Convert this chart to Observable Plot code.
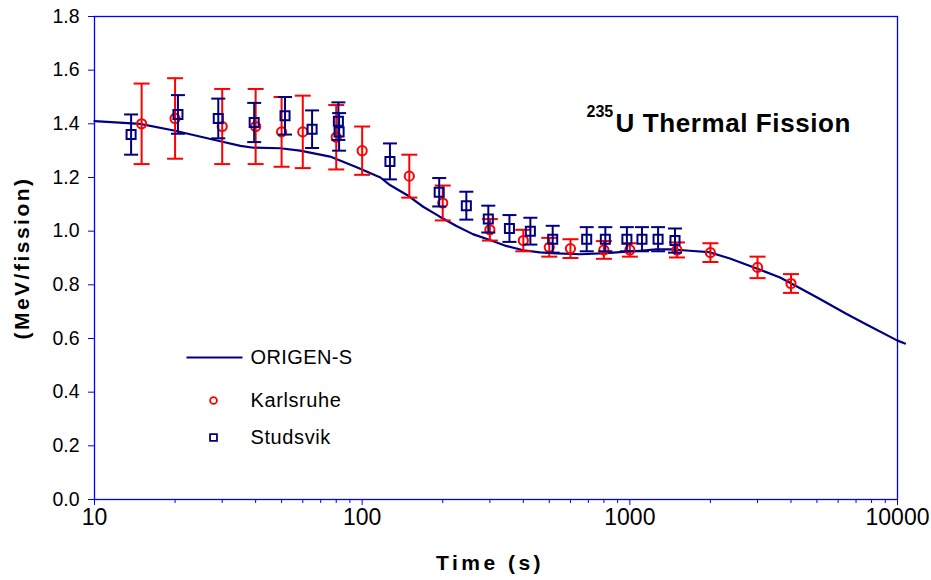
<!DOCTYPE html>
<html>
<head>
<meta charset="utf-8">
<script src="https://cdn.jsdelivr.net/npm/d3@7"></script>
<script src="https://cdn.jsdelivr.net/npm/@observablehq/plot@0.6"></script>
<style>
  html, body { margin: 0; padding: 0; background: #ffffff; }
  svg { display: block; }
</style>
</head>
<body>
<div id="chart"></div>
<script>
// ---- Data ----
const origenTime  = [10, 14.8, 19.8, 29.5, 35.1, 39.3, 49.4, 58.6, 75.9, 95.4, 117, 127, 147, 169, 195, 225, 259, 300, 345, 400, 461, 532, 654, 818, 944, 1090, 1254, 1448, 1671, 1972, 2365, 2980, 3642, 4193, 5090, 6407, 7627, 9960, 10660];
const origenValue = [1.41, 1.40, 1.375, 1.335, 1.318, 1.311, 1.309, 1.30, 1.278, 1.238, 1.20, 1.172, 1.135, 1.091, 1.054, 1.019, 0.989, 0.967, 0.945, 0.929, 0.921, 0.917, 0.914, 0.918, 0.923, 0.927, 0.932, 0.932, 0.927, 0.922, 0.898, 0.861, 0.827, 0.795, 0.749, 0.693, 0.653, 0.593, 0.581];

const karlsruheTime  = [15, 20, 30, 40, 50, 60, 80, 100, 150, 200, 300, 400, 500, 600, 800, 1000, 1500, 2000, 3000, 4000];
const karlsruheValue = [1.40, 1.42, 1.39, 1.39, 1.37, 1.37, 1.35, 1.30, 1.205, 1.105, 1.005, 0.965, 0.94, 0.935, 0.93, 0.93, 0.93, 0.92, 0.865, 0.805];
const karlsruheError = [0.15, 0.15, 0.14, 0.14, 0.13, 0.135, 0.12, 0.09, 0.08, 0.065, 0.04, 0.04, 0.035, 0.035, 0.033, 0.025, 0.028, 0.035, 0.04, 0.035];

const studsvikTime  = [13.7, 20.5, 29, 39.5, 51.5, 65, 81.5, 82, 127, 194, 245, 296, 355, 425, 515, 690, 810, 975, 1110, 1275, 1475];
const studsvikValue = [1.36, 1.435, 1.42, 1.405, 1.43, 1.38, 1.41, 1.37, 1.26, 1.145, 1.095, 1.045, 1.01, 1.0, 0.97, 0.97, 0.97, 0.97, 0.97, 0.97, 0.965];
const studsvikError = [0.075, 0.072, 0.074, 0.073, 0.07, 0.07, 0.07, 0.07, 0.067, 0.053, 0.052, 0.05, 0.05, 0.05, 0.05, 0.045, 0.045, 0.045, 0.045, 0.045, 0.045];

const yTicks = [0, 0.2, 0.4, 0.6, 0.8, 1.0, 1.2, 1.4, 1.6, 1.8];
const xMajorTicks = [10, 100, 1000, 10000];
const xMinorTicks = [20, 30, 40, 50, 60, 70, 80, 90, 200, 300, 400, 500, 600, 700, 800, 900, 2000, 3000, 4000, 5000, 6000, 7000, 8000, 9000];

const legendLabels = ["ORIGEN-S", "Karlsruhe", "Studsvik"];
const titleSup = "235";
const titleMain = "U Thermal Fission";
const xLabel = "Time (s)";
const yLabel = "(MeV/fission)";

// ---- Tables built from the arrays ----
const origen = origenTime.map((t, i) => ({t, v: origenValue[i]}));
const karlsruhe = karlsruheTime.map((t, i) => ({t, v: karlsruheValue[i], e: karlsruheError[i]}));
const studsvik = studsvikTime.map((t, i) => ({t, v: studsvikValue[i], e: studsvikError[i]}));

const AXIS = "#0000ff";
const NAVY = "#000080";
const RED = "#ff0000";
const FONT = "'Liberation Sans', Arial, sans-serif";

// horizontal segment symbol (error-bar caps, legend line); half-width = r
const hline = {
  draw(context, size) {
    const w = Math.sqrt(size / Math.PI);
    context.moveTo(-w, 0);
    context.lineTo(w, 0);
  }
};

const errorBars = (data, color, capR) => [
  Plot.ruleX(data, {x: "t", y1: d => d.v - d.e, y2: d => d.v + d.e, stroke: color, strokeWidth: 2}),
  Plot.dot(data, {x: "t", y: d => d.v + d.e, symbol: hline, r: capR, stroke: color, strokeWidth: 2}),
  Plot.dot(data, {x: "t", y: d => d.v - d.e, symbol: hline, r: capR, stroke: color, strokeWidth: 2})
];

// legend rows: offsets from the frame's top-left corner
const legendRowDy = [341, 384, 421];

const chart = Plot.plot({
  width: 931,
  height: 580,
  marginLeft: 94,
  marginRight: 34,
  marginTop: 16,
  marginBottom: 81,
  style: {fontFamily: FONT, background: "#ffffff", color: "#000"},
  x: {type: "log", domain: [10, 10000]},
  y: {domain: [0, 1.8]},
  marks: [
    Plot.axisX({ticks: xMinorTicks, tickSize: 4, stroke: AXIS, fill: "none", label: null}),
    Plot.axisX({ticks: xMajorTicks, tickFormat: d => String(d), tickSize: 6, tickPadding: 3, stroke: AXIS, fill: "#000", fontSize: 23, label: null}),
    Plot.axisY({ticks: yTicks, tickFormat: d3.format(".1f"), tickSize: 6, tickPadding: 9, stroke: AXIS, fill: "#000", fontSize: 19.5, label: null}),
    Plot.frame({stroke: AXIS, strokeWidth: 1.3}),

    Plot.line(origen, {x: "t", y: "v", stroke: NAVY, strokeWidth: 2.2, curve: "linear"}),

    ...errorBars(karlsruhe, RED, 8),
    Plot.dot(karlsruhe, {x: "t", y: "v", r: 4.6, stroke: RED, strokeWidth: 2, fill: "none"}),

    ...errorBars(studsvik, NAVY, 7),
    Plot.dot(studsvik, {x: "t", y: "v", symbol: "square", r: 5.1, stroke: NAVY, strokeWidth: 2, fill: "none"}),

    // legend
    Plot.dot([legendLabels[0]], {frameAnchor: "top-left", dx: 120, dy: legendRowDy[0], symbol: hline, r: 28, stroke: NAVY, strokeWidth: 2.2}),
    Plot.dot([legendLabels[1]], {frameAnchor: "top-left", dx: 119, dy: legendRowDy[1], r: 3.4, stroke: RED, strokeWidth: 1.8, fill: "none"}),
    Plot.dot([legendLabels[2]], {frameAnchor: "top-left", dx: 119, dy: legendRowDy[2], symbol: "square", r: 3.9, stroke: NAVY, strokeWidth: 1.8, fill: "none"}),
    ...legendLabels.map((label, i) =>
      Plot.text([label], {frameAnchor: "top-left", dx: 156, dy: legendRowDy[i], textAnchor: "start", lineAnchor: "middle", fontSize: 20, fill: "#000"})
    ),

    // title
    Plot.text([titleSup], {frameAnchor: "top-left", dx: 492, dy: 89, textAnchor: "start", fontSize: 16, fontWeight: "bold", fill: "#000"}),
    Plot.text([titleMain], {frameAnchor: "top-left", dx: 521, dy: 97, textAnchor: "start", fontSize: 26, fontWeight: "bold", fill: "#000"}),

    // axis titles
    Plot.text([yLabel], {frameAnchor: "left", dx: -72, rotate: -90, textAnchor: "middle", lineAnchor: "middle", fontSize: 21, fontWeight: "bold", fill: "#000"}),
    Plot.text([xLabel], {frameAnchor: "bottom", dx: -6, dy: 64, textAnchor: "middle", lineAnchor: "middle", fontSize: 21, fontWeight: "bold", fill: "#000"})
  ]
});

document.getElementById("chart").appendChild(chart);

// Excel-like letter spacing on a few labels
const spacing = {[titleMain]: "0.6px", [yLabel]: "2.5px", [xLabel]: "3.5px",
  [legendLabels[0]]: "0.4px", [legendLabels[1]]: "0.6px", [legendLabels[2]]: "0.6px"};
d3.select(chart).selectAll("text").each(function() {
  const s = spacing[this.textContent];
  if (s) this.style.letterSpacing = s;
});
</script>
</body>
</html>
